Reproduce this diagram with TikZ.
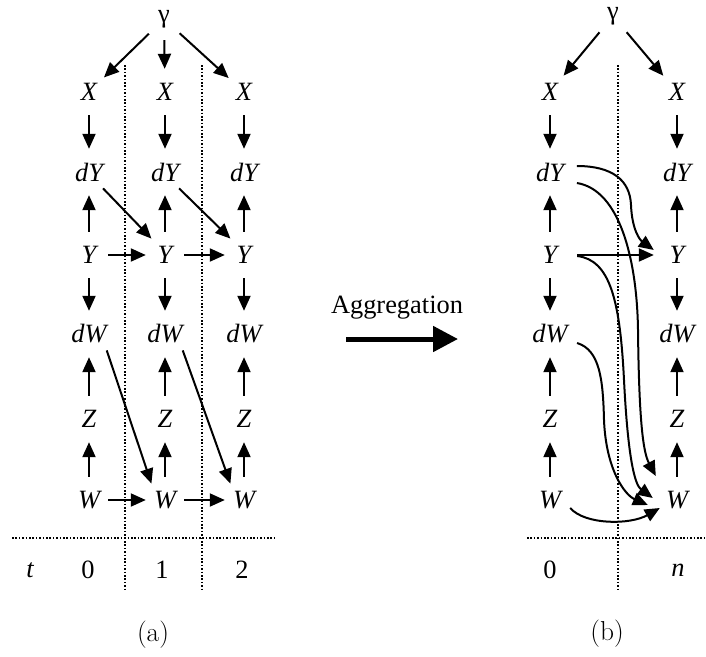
\documentclass[tikz,border=0pt]{standalone}
\usepackage{fontspec}
\newfontfamily\tnr{Liberation Serif}
\usetikzlibrary{arrows.meta,shapes.geometric}

\begin{document}
\begin{tikzpicture}[x=1pt,y=-1pt,
  var/.style={ellipse,inner sep=0pt,minimum width=38pt,minimum height=46pt,font=\tnr\itshape\fontsize{26.4}{30}\selectfont},
  top/.style={circle,inner sep=0pt,minimum size=42pt,font=\tnr\fontsize{26.4}{30}\selectfont},
  lab/.style={inner sep=0pt,font=\tnr\fontsize{26.4}{30}\selectfont},
  arr/.style={-{Triangle[length=15pt,width=13pt]},line width=2pt},
  sep/.style={line width=1.8pt,dash pattern=on 1.6pt off 1.8pt}]
\useasboundingbox (0,0) rectangle (706,656);
% (a) time steps
\node[top] (ga) at (164,19) {γ};
\foreach \i/\x in {0/89,1/165,2/244} {
  \node[var] (x\i) at (\x,92) {X};
  \node[var] (dy\i) at (\x,172) {dY};
  \node[var] (y\i) at (\x,255) {Y};
  \node[var] (dw\i) at (\x,334) {dW};
  \node[var] (z\i) at (\x,419) {Z};
  \node[var] (w\i) at (\x,500) {W};
  \draw[arr] (ga)--(x\i);
  \draw[arr] (x\i)--(dy\i); \draw[arr] (y\i)--(dy\i);
  \draw[arr] (y\i)--(dw\i); \draw[arr] (z\i)--(dw\i);
  \draw[arr] (w\i)--(z\i);
}
\foreach \i/\j in {0/1,1/2} {
  \draw[arr] (dy\i.south east)--(y\j.north west);
  \draw[arr] (y\i)--(y\j);
  \draw[arr] (dw\i.south east)--(w\j.north west);
  \draw[arr] (w\i)--(w\j);
}
\draw[sep] (125,65)--(125,590) (202,65)--(202,590) (12,538)--(275,538);
\node[lab,font=\tnr\itshape\fontsize{26.4}{30}\selectfont] (t) at (30,570) {t};
\node[lab] (t0) at (88,570) {0};
\node[lab] (t1) at (162,570) {1};
\node[lab] (t2) at (242,570) {2};
\node[font=\fontsize{27.4}{32}\selectfont] (capa) at (153,635) {(a)};
% aggregation
\node[lab] (agg) at (397,308) {Aggregation};
\coordinate (ag1) at (346,339);
\coordinate (ag2) at (458,339);
\draw[-{Triangle[length=25pt,width=25pt]},line width=5pt] (ag1)--(ag2);
% (b) aggregated
\node[top] (gb) at (613,16) {γ};
\foreach \i/\x in {0/550,n/677} {
  \node[var] (xb\i) at (\x,92) {X};
  \node[var] (dyb\i) at (\x,172) {dY};
  \node[var] (yb\i) at (\x,255) {Y};
  \node[var] (dwb\i) at (\x,334) {dW};
  \node[var] (zb\i) at (\x,419) {Z};
  \node[var] (wb\i) at (\x,500) {W};
  \draw[arr] (gb)--(xb\i);
  \draw[arr] (xb\i)--(dyb\i); \draw[arr] (yb\i)--(dyb\i);
  \draw[arr] (yb\i)--(dwb\i); \draw[arr] (zb\i)--(dwb\i);
  \draw[arr] (wb\i)--(zb\i);
}
\draw[arr] ([shift={(7,-6)}]dyb0.east) .. controls (612,166) and (630,180) .. (631,205)
  .. controls (632,230) and (640,240) .. ([shift={(-4,-5)}]ybn.west);
\draw[arr] ([shift={(8,0)}]yb0.east)--([shift={(-4,0)}]ybn.west);
\draw[arr] ([shift={(7,11)}]dyb0.east) .. controls (620,190) and (637,260) .. (638,330)
  .. controls (639,420) and (643,452) .. ([shift={(-2,-24)}]wbn.west);
\draw[arr] ([shift={(8,1)}]yb0.east) .. controls (610,260) and (620,300) .. (624,380)
  .. controls (628,460) and (635,485) .. ([shift={(-5,-2)}]wbn.west);
\draw[arr] ([shift={(2,9)}]dwb0.east) .. controls (600,350) and (603,380) .. (604,420)
  .. controls (606,470) and (625,495) .. ([shift={(-10,5)}]wbn.west);
\draw[arr] ([shift={(1,8)}]wb0.east) .. controls (585,525) and (630,525) .. ([shift={(2,8)}]wbn.west);
\draw[sep] (618,65)--(618,590) (527,538)--(706,538);
\node[lab] (b0) at (550,570) {0};
\node[lab,font=\tnr\itshape\fontsize{26.4}{30}\selectfont] (bn) at (678,570) {n};
\node[font=\fontsize{27.4}{32}\selectfont] (capb) at (607,634) {(b)};
\end{tikzpicture}
\end{document}
